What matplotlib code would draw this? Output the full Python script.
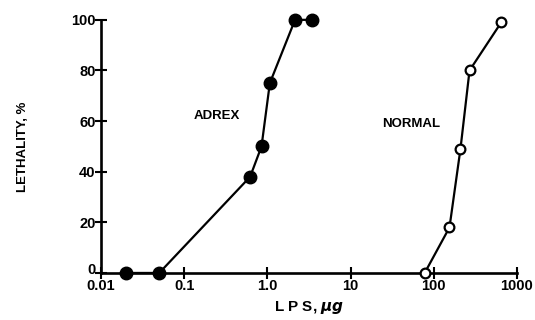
import matplotlib.pyplot as plt
from matplotlib.ticker import FixedLocator, NullLocator
from matplotlib.transforms import ScaledTranslation

plt.rcParams['font.family'] = ['Liberation Sans', 'DejaVu Sans']
plt.rcParams['font.weight'] = 'bold'

# LPS dose (ug) and lethality (%)
adrex_dose = [0.02, 0.05, 0.62, 0.85, 1.07, 2.15, 3.45]
adrex_leth = [0, 0, 38, 50, 75, 100, 100]
normal_dose = [78, 155, 210, 270, 650]
normal_leth = [0, 18, 49, 80, 99]

xticks = [0.01, 0.1, 1.0, 10, 100, 1000]
xticklabels = ['0.01', '0.1', '1.0', '10', '100', '1000']
yticks = [0, 20, 40, 60, 80, 100]

fig = plt.figure(figsize=(5.35, 3.2), dpi=100)
ax = fig.add_axes([0.189, 0.147, 0.777, 0.791])

ax.plot(adrex_dose, adrex_leth, color='black', lw=1.6, marker='o', ms=9,
        mfc='black', mec='black', clip_on=False, zorder=3)
ax.plot(normal_dose, normal_leth, color='black', lw=1.6, marker='o', ms=7,
        mfc='white', mec='black', mew=1.6, clip_on=False, zorder=3)

ax.set_xscale('log')
ax.set_xlim(0.01, 1000)
ax.set_ylim(0, 100)
ax.xaxis.set_major_locator(FixedLocator(xticks))
ax.xaxis.set_minor_locator(NullLocator())
ax.set_xticklabels(xticklabels)
ax.set_yticks(yticks)

for s in ['top', 'right']:
    ax.spines[s].set_visible(False)
for s in ['left', 'bottom']:
    ax.spines[s].set_linewidth(1.9)

ax.tick_params(direction='inout', length=8, width=1.5, labelsize=10.5, pad=0)
for lab in ax.get_xticklabels() + ax.get_yticklabels():
    lab.set_fontweight('bold')

# lift the y "0" a little, as in the original
ylabs = ax.get_yticklabels()
ylabs[0].set_transform(ylabs[0].get_transform() + ScaledTranslation(0, 3 / 72, fig.dpi_scale_trans))

ax.text(0.25, 62, 'ADREX', fontsize=9.5, fontweight='bold', ha='center', va='center')
ax.text(54, 59, 'NORMAL', fontsize=9.5, fontweight='bold', ha='center', va='center')

ax.set_xlabel(r'L P S, $\mu g$', fontsize=11, fontweight='bold', labelpad=5)
ax.set_ylabel('LETHALITY, %', fontsize=9.5, fontweight='bold', labelpad=30)

fig.savefig('out.png', dpi=100)
